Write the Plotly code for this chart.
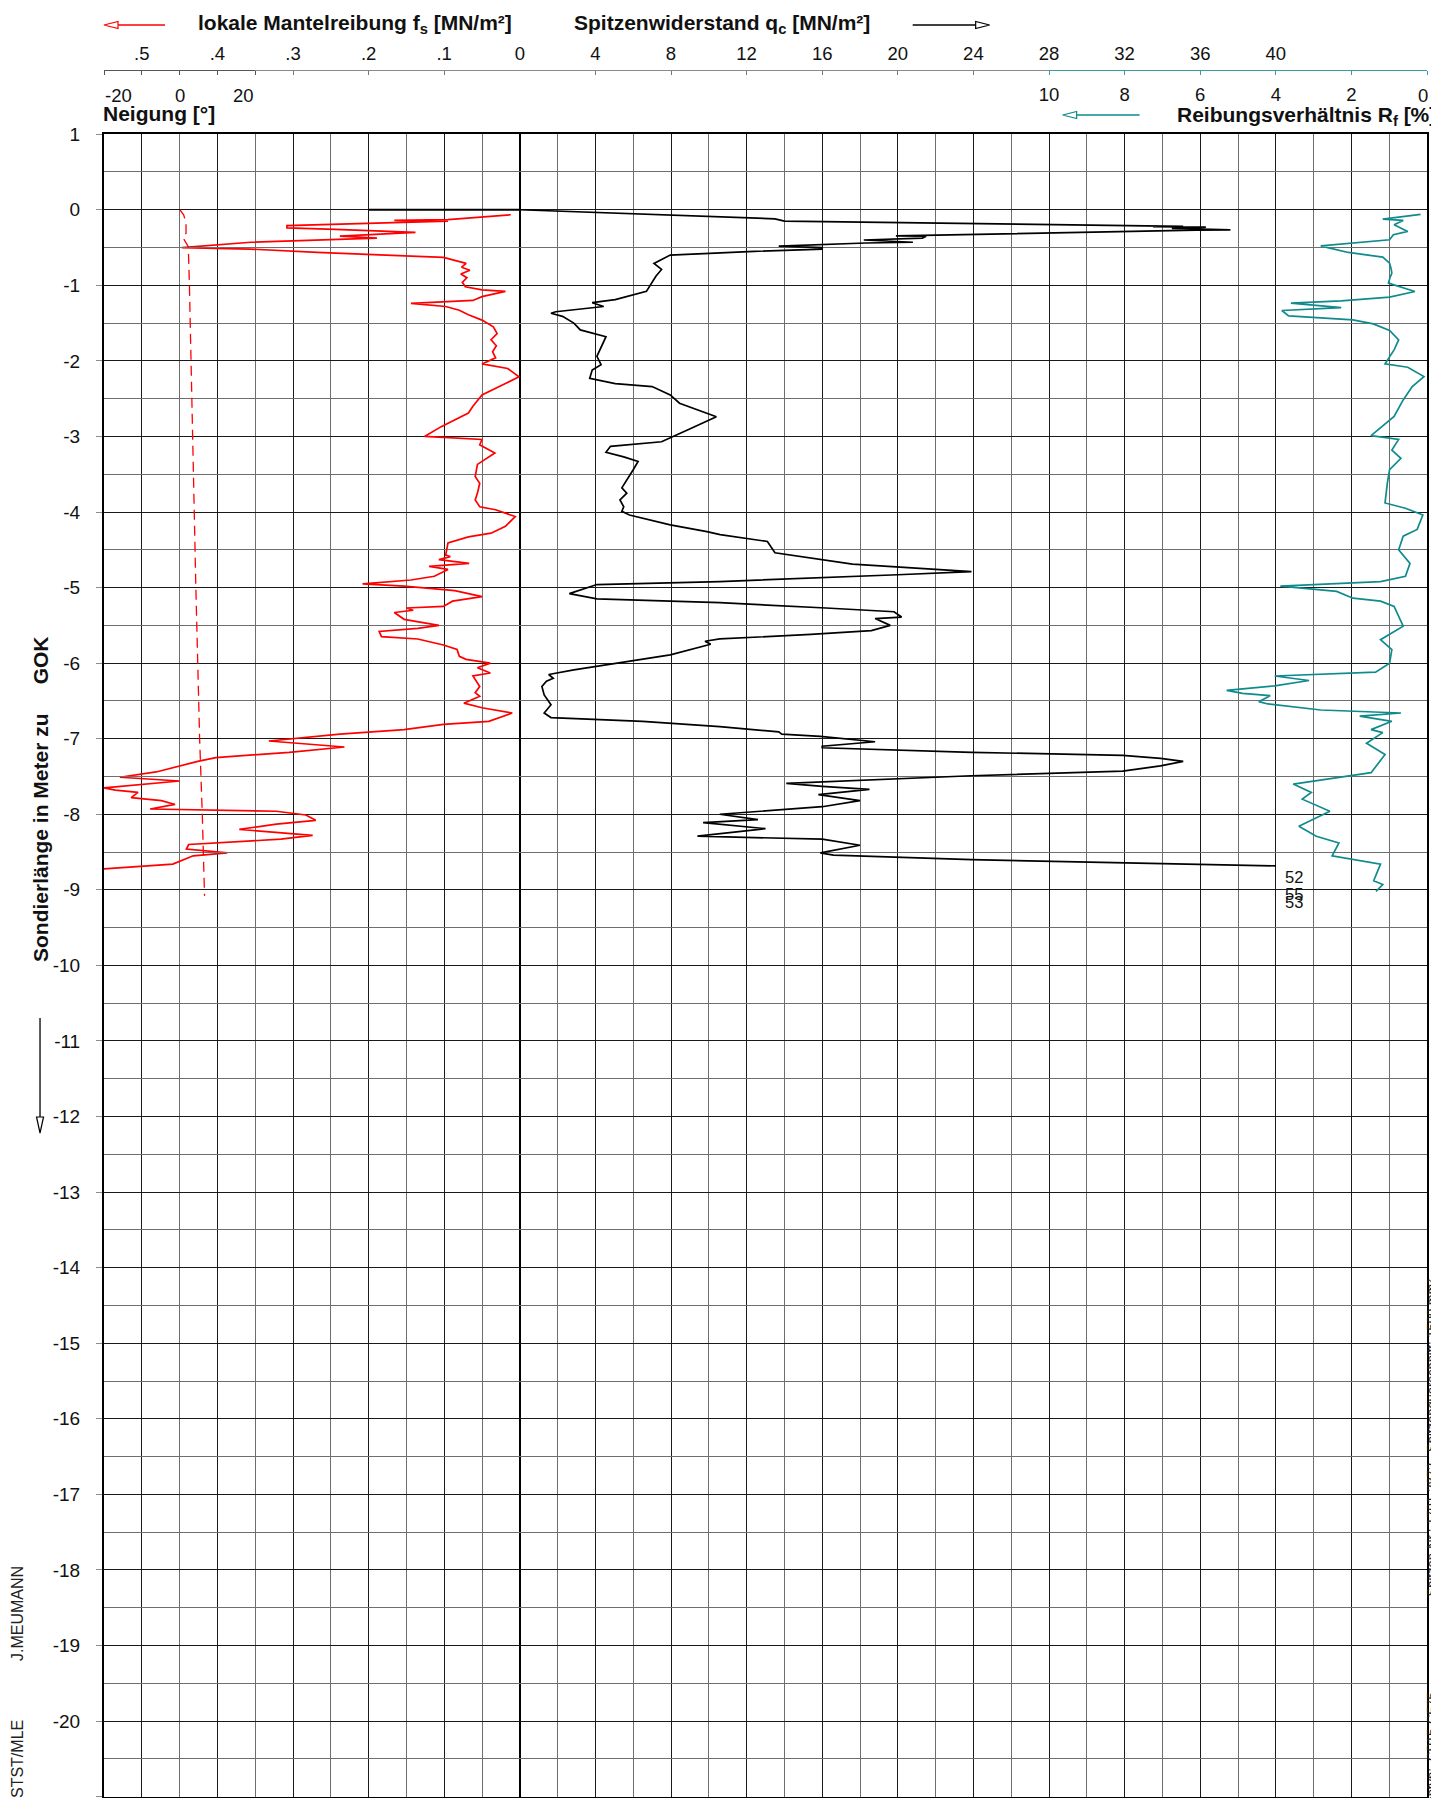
import plotly.graph_objects as go

# ---------------- data ----------------
# local skin friction f_s [MN/m²] vs. depth [m]
fs_depth = [-0.066, -0.10, -0.115, -0.13, -0.14, -0.15, -0.21, -0.24, -0.26, -0.30, -0.35, -0.375,
            -0.43, -0.49, -0.50, -0.52, -0.565, -0.63, -0.71, -0.76, -0.80, -0.85, -0.90, -0.96,
            -1.02, -1.06, -1.08, -1.15, -1.20, -1.24, -1.28, -1.33, -1.39, -1.46, -1.55, -1.64,
            -1.72, -1.80, -1.88, -1.96, -2.04, -2.10, -2.21, -2.30, -2.45, -2.60, -2.69, -2.87,
            -3.00, -3.04, -3.11, -3.22, -3.37, -3.53, -3.62, -3.75, -3.84, -3.93, -3.97, -4.06,
            -4.19, -4.28, -4.33, -4.41, -4.57, -4.59, -4.63, -4.68, -4.72, -4.76, -4.85, -4.90,
            -4.95, -4.98, -5.04, -5.12, -5.18, -5.25, -5.27, -5.30, -5.33, -5.42, -5.46, -5.50,
            -5.54, -5.58, -5.65, -5.68, -5.76, -5.82, -5.91, -5.95, -6.00, -6.06, -6.13, -6.17,
            -6.31, -6.39, -6.44, -6.53, -6.59, -6.66, -6.77, -6.81, -6.88, -6.94, -7.03, -7.11,
            -7.18, -7.25, -7.30, -7.44, -7.51, -7.56, -7.65, -7.68, -7.71, -7.78, -7.82, -7.87,
            -7.93, -7.96, -8.01, -8.08, -8.13, -8.20, -8.28, -8.33, -8.40, -8.46, -8.51, -8.55,
            -8.66, -8.73]
fs_value = [0.012, 0.060, 0.077, 0.095, 0.166, 0.095, 0.308, 0.308, 0.244, 0.138, 0.238, 0.189,
            0.356, 0.444, 0.447, 0.357, 0.268, 0.101, 0.071, 0.077, 0.066, 0.078, 0.070, 0.076,
            0.072, 0.050, 0.019, 0.050, 0.062, 0.144, 0.098, 0.080, 0.068, 0.050, 0.035, 0.030,
            0.038, 0.031, 0.036, 0.032, 0.050, 0.016, 0.001, 0.019, 0.050, 0.062, 0.068, 0.104,
            0.126, 0.050, 0.053, 0.033, 0.056, 0.059, 0.053, 0.056, 0.059, 0.053, 0.032, 0.006,
            0.019, 0.038, 0.068, 0.095, 0.098, 0.092, 0.107, 0.067, 0.120, 0.095, 0.113, 0.144,
            0.208, 0.153, 0.086, 0.050, 0.089, 0.101, 0.150, 0.141, 0.166, 0.153, 0.132, 0.107,
            0.135, 0.186, 0.183, 0.135, 0.101, 0.083, 0.080, 0.071, 0.039, 0.056, 0.039, 0.062,
            0.053, 0.059, 0.053, 0.074, 0.050, 0.010, 0.041, 0.101, 0.153, 0.238, 0.332, 0.232,
            0.305, 0.402, 0.426, 0.481, 0.529, 0.450, 0.550, 0.535, 0.505, 0.514, 0.474, 0.456,
            0.489, 0.322, 0.283, 0.270, 0.322, 0.371, 0.274, 0.316, 0.438, 0.441, 0.387, 0.432,
            0.459, 0.560]

# cone resistance q_c [MN/m²] vs. depth [m]
qc_depth = [0.0, -0.066, -0.097, -0.12, -0.15, -0.22, -0.225, -0.23, -0.245, -0.265, -0.27, -0.345,
            -0.35, -0.375, -0.40, -0.43, -0.44, -0.48, -0.50, -0.52, -0.55, -0.574, -0.60, -0.71,
            -0.79, -0.88, -1.08, -1.19, -1.23, -1.28, -1.35, -1.37, -1.41, -1.50, -1.59, -1.68,
            -1.81, -1.94, -2.05, -2.12, -2.23, -2.30, -2.34, -2.45, -2.56, -2.74, -2.91, -3.07,
            -3.13, -3.21, -3.27, -3.33, -3.44, -3.57, -3.68, -3.75, -3.84, -3.93, -3.99, -4.04,
            -4.17, -4.26, -4.30, -4.39, -4.45, -4.54, -4.69, -4.79, -4.83, -4.92, -4.96, -5.08,
            -5.15, -5.20, -5.27, -5.32, -5.39, -5.41, -5.50, -5.57, -5.62, -5.68, -5.71, -5.75,
            -5.89, -6.00, -6.09, -6.15, -6.20, -6.24, -6.31, -6.42, -6.55, -6.66, -6.72, -6.77,
            -6.84, -6.91, -6.94, -6.97, -7.04, -7.10, -7.12, -7.18, -7.22, -7.26, -7.30, -7.36,
            -7.43, -7.49, -7.59, -7.63, -7.67, -7.74, -7.82, -7.90, -8.00, -8.07, -8.11, -8.19,
            -8.29, -8.33, -8.41, -8.51, -8.54, -8.60, -8.72, -8.76, -8.80]
qc_value = [0.0, 7.96, 10.6, 13.5, 14.0, 35.1, 33.5, 36.3, 34.5, 37.6, 35.8, 19.9,
            21.5, 21.3, 18.2, 20.8, 18.3, 13.7, 16.0, 16.0, 12.4, 10.6, 7.96, 7.1,
            7.5, 7.2, 6.7, 5.05, 3.83, 4.44, 1.9, 1.65, 2.26, 2.86, 3.2, 4.56,
            4.3, 4.08, 4.3, 3.83, 3.7, 5.05, 7.0, 7.96, 8.45, 10.4, 8.9, 7.5,
            4.8, 4.56, 5.5, 6.26, 6.0, 5.66, 5.4, 5.66, 5.3, 5.5, 5.4, 5.8,
            7.96, 9.9, 10.6, 13.1, 13.25, 13.5, 17.6, 23.9, 20.0, 10.58, 4.08, 2.62,
            4.08, 10.58, 16.2, 19.8, 20.2, 18.8, 19.6, 18.6, 15.4, 10.58, 9.8, 10.1,
            7.96, 5.05, 2.86, 1.53, 1.77, 1.41, 1.17, 1.29, 1.65, 1.29, 1.65, 6.5,
            10.58, 13.7, 13.86, 15.9, 18.8, 16.0, 16.0, 23.9, 31.9, 33.9, 35.1, 33.9,
            31.9, 23.9, 14.1, 16.0, 18.5, 15.8, 18.0, 16.0, 10.58, 12.6, 9.7, 13.0,
            9.4, 16.0, 18.0, 15.9, 16.6, 23.9, 52.0, 55.0, 53.0]

# friction ratio R_f [%] vs. depth [m]
rf_depth = [-0.062, -0.088, -0.124, -0.141, -0.199, -0.287, -0.331, -0.397, -0.477, -0.508, -0.565,
            -0.627, -0.706, -0.78, -0.839, -0.90, -0.971, -1.082, -1.157, -1.205, -1.236, -1.294,
            -1.333, -1.404, -1.457, -1.51, -1.598, -1.722, -1.854, -2.04, -2.084, -2.208, -2.34,
            -2.517, -2.735, -2.99, -3.04, -3.18, -3.29, -3.44, -3.62, -3.88, -3.95, -4.04, -4.23,
            -4.32, -4.50, -4.68, -4.85, -4.92, -4.98, -5.03, -5.05, -5.14, -5.18, -5.25, -5.38,
            -5.51, -5.69, -5.82, -6.00, -6.12, -6.17, -6.23, -6.30, -6.36, -6.40, -6.43, -6.51,
            -6.54, -6.62, -6.66, -6.70, -6.77, -6.88, -6.92, -7.06, -7.21, -7.45, -7.53, -7.60,
            -7.71, -7.80, -7.96, -8.16, -8.29, -8.38, -8.55, -8.66, -8.88, -8.93, -9.02]
rf_value = [0.17, 0.63, 1.17, 0.63, 0.87, 0.51, 0.89, 0.99, 2.81, 2.57, 2.08,
            1.17, 0.99, 0.95, 0.93, 0.98, 1.02, 0.32, 0.99, 2.27, 3.60, 2.27,
            3.84, 3.66, 1.96, 1.42, 0.99, 0.75, 0.87, 1.11, 0.51, 0.08, 0.39,
            0.63, 0.87, 1.48, 0.75, 0.93, 0.69, 0.99, 1.05, 1.11, 0.57, 0.11, 0.26,
            0.63, 0.75, 0.45, 0.57, 1.23, 3.88, 2.81, 2.39, 1.96, 1.23, 0.87, 0.75,
            0.63, 1.23, 0.93, 0.99, 1.36, 4.03, 3.12, 4.03, 5.30, 4.88, 4.15, 4.45,
            4.21, 2.81, 0.69, 1.78, 0.93, 1.48, 1.17, 1.60, 1.11, 1.48, 2.57, 3.54,
            3.06, 3.30, 2.57, 3.39, 2.93, 2.33, 2.51, 1.23, 1.41, 1.17, 1.35]

# inclination [°] vs. depth [m]
incl_depth = [0.0, -0.07, -0.18, -0.31, -0.37, -0.49, -1.0, -2.0, -3.0, -4.0, -5.0, -6.0, -7.0, -8.0, -9.08]
incl_value = [0.1, 1.1, 1.7, 1.7, 0.9, 2.3, 2.6, 3.0, 3.4, 3.8, 4.3, 4.8, 5.3, 6.0, 6.6]

# tick labels
depth_ticks = list(range(1, -22, -1))
fs_ticks = [0.5, 0.4, 0.3, 0.2, 0.1, 0.0]
fs_ticktext = [".5", ".4", ".3", ".2", ".1", "0"]
qc_ticks = [4, 8, 12, 16, 20, 24, 28, 32, 36, 40]
rf_ticks = [10, 8, 6, 4, 2, 0]
incl_ticks = [-20, -10, 0, 10, 20]
incl_labels = [-20, 0, 20]
qc_offscale_labels = ["52", "55", "53"]

# ---------------- geometry (page pixels; the page body adds an 8 px offset) ----------------
OFF = 8
PAGE_W, PAGE_H = 1439, 1798
W, H = PAGE_W - OFF, PAGE_H - OFF
PLOT_L_PX, PLOT_R_PX = 104, 1427.5
ML = PLOT_L_PX - OFF
PW = PLOT_R_PX - PLOT_L_PX
MR = W - ML - PW
NCOL = 35
PLOT_TOP_PX, PLOT_BOT_PX = 134.2, 1796.6
AXLINE_PX = 70


def fx(px):
    return (px - PLOT_L_PX) / PW


def fy(py):
    return 1 - (py - OFF) / H


FONT = "Liberation Sans, Arial, Helvetica, sans-serif"
RED = "#ff0000"
TEAL = "#0f8b8d"
TXT = "#111111"

fig = go.Figure()
fig.add_trace(go.Scatter(x=[], y=[], xaxis="x", yaxis="y", showlegend=False, hoverinfo="skip"))
fig.add_trace(go.Scatter(x=incl_value, y=incl_depth, xaxis="x5", yaxis="y", mode="lines",
                         line=dict(color=RED, width=1.3, dash="10px,6px"), showlegend=False))
fig.add_trace(go.Scatter(x=fs_value, y=fs_depth, xaxis="x2", yaxis="y", mode="lines",
                         line=dict(color=RED, width=1.7), showlegend=False))
fig.add_trace(go.Scatter(x=qc_value, y=qc_depth, xaxis="x3", yaxis="y", mode="lines",
                         line=dict(color="#000000", width=1.7), showlegend=False))
fig.add_trace(go.Scatter(x=rf_value, y=rf_depth, xaxis="x4", yaxis="y", mode="lines",
                         line=dict(color=TEAL, width=1.7), showlegend=False))

header_pos = fy(AXLINE_PX)
hdr = dict(anchor="free", position=header_pos, showgrid=False, zeroline=False, tickmode="array",
           ticklen=4, tickwidth=1, showline=True, linewidth=1.3, fixedrange=True,
           tickfont=dict(size=18.5, color=TXT))

fig.update_layout(
    width=W, height=H,
    margin=dict(l=ML, r=MR, t=0, b=0, pad=0, autoexpand=False),
    paper_bgcolor="white", plot_bgcolor="rgba(0,0,0,0)", showlegend=False,
    font=dict(family=FONT, size=18.5, color=TXT),
    xaxis=dict(domain=[0, 1], range=[-22, 48], anchor="y", tick0=0, dtick=4,
               showticklabels=False, ticks="", showgrid=True, gridcolor="#1a1a1a", gridwidth=1.2,
               minor=dict(tick0=0, dtick=2, showgrid=True, gridcolor="#6e6e6e", gridwidth=1.2),
               zeroline=True, zerolinecolor="#000000", zerolinewidth=2.2,
               showline=True, mirror=True, linecolor="#000000", linewidth=2, fixedrange=True),
    yaxis=dict(domain=[fy(PLOT_BOT_PX), fy(PLOT_TOP_PX)], range=[-21, 1], anchor="x",
               tickmode="array", tickvals=depth_ticks, ticktext=[str(v) for v in depth_ticks],
               ticks="outside", ticklen=6, tickcolor="#8c8c8c", tickwidth=1,
               ticklabelstandoff=12, tickfont=dict(size=19, color=TXT),
               showgrid=True, gridcolor="#1a1a1a", gridwidth=1.3,
               minor=dict(tick0=0, dtick=0.5, showgrid=True, gridcolor="#6e6e6e", gridwidth=1.2),
               zeroline=False, showline=True, mirror=True, linecolor="#000000", linewidth=2,
               fixedrange=True),
    xaxis2=dict(hdr, domain=[0, 11 / NCOL], range=[0.55, 0], side="top", tickvals=fs_ticks,
                ticktext=fs_ticktext, ticks="inside", tickcolor="#777777", linecolor="#8a8a8a",
                ticklabelstandoff=2),
    xaxis3=dict(hdr, domain=[11 / NCOL, 31 / NCOL], range=[0, 40], side="top", tickvals=qc_ticks,
                ticktext=[str(v) for v in qc_ticks], ticks="inside", tickcolor="#777777",
                linecolor="#8a8a8a", ticklabelstandoff=2),
    xaxis4=dict(hdr, domain=[25 / NCOL, 1], range=[10, 0], side="bottom", tickvals=rf_ticks,
                ticktext=[str(v) if v != 0 else "" for v in rf_ticks], ticks="outside",
                tickcolor="#3a9c9c", linecolor="#3a9c9c", ticklabelstandoff=4),
    xaxis5=dict(hdr, domain=[0, 4 / NCOL], range=[-20, 20], side="bottom", tickvals=incl_ticks,
                ticks="outside", tickcolor="#555555", linecolor="#555555", showticklabels=False),
)

ann = []
# inclination labels (aligned like the reference)
for v in incl_labels:
    ann.append(dict(xref="x5", yref="paper", x=v, y=fy(95), text=str(v), showarrow=False,
                    xanchor="left" if v < 0 else ("right" if v > 0 else "center"), yanchor="middle",
                    borderpad=0, font=dict(size=18.5, color=TXT)))
# R_f "0" label at the right edge
ann.append(dict(xref="x4", yref="paper", x=rf_ticks[-1], y=fy(95), text=str(rf_ticks[-1]),
                showarrow=False, xanchor="right", yanchor="middle", xshift=2, borderpad=0,
                font=dict(size=18.5, color=TXT)))

# header titles
bold = dict(size=21, color=TXT, family=FONT)
ann.append(dict(xref="paper", yref="paper", x=fx(196), y=fy(24), xanchor="left", yanchor="middle",
                text="<b>lokale Mantelreibung f<sub>s</sub> [MN/m²]</b>", showarrow=False, font=bold))
ann.append(dict(xref="paper", yref="paper", x=fx(572), y=fy(24), xanchor="left", yanchor="middle",
                text="<b>Spitzenwiderstand q<sub>c</sub> [MN/m²]</b>", showarrow=False, font=bold))
ann.append(dict(xref="paper", yref="paper", x=fx(102), y=fy(114), xanchor="left", yanchor="middle",
                text="<b>Neigung [°]</b>", showarrow=False, font=bold, borderpad=0))
ann.append(dict(xref="paper", yref="paper", x=fx(1438), y=fy(116), xanchor="right", yanchor="middle",
                text="<b>Reibungsverhältnis R<sub>f</sub> [%]</b>", showarrow=False, font=bold,
                borderpad=0))

# y axis title
ann.append(dict(xref="paper", yref="paper", x=fx(40), y=fy(799), xanchor="center", yanchor="middle",
                textangle=-90, showarrow=False, font=dict(size=21, color=TXT, family=FONT),
                text="<b>Sondierlänge in Meter zu" + "\u00a0" * 5 + "GOK</b>"))

# off-scale q_c values
for lbl, ypx in zip(qc_offscale_labels, [877, 894, 902]):
    ann.append(dict(xref="x3", yref="paper", x=40, y=fy(ypx), xanchor="left", yanchor="middle",
                    xshift=7, text=lbl, showarrow=False, font=dict(size=16.5, color=TXT)))

# side texts
side_font = dict(size=16, color="#222222", family=FONT)
ann.append(dict(xref="paper", yref="paper", x=fx(17), y=fy(1614), xanchor="center", yanchor="middle",
                textangle=-90, text="J.MEUMANN", showarrow=False, font=side_font))
ann.append(dict(xref="paper", yref="paper", x=fx(17), y=fy(1759), xanchor="center", yanchor="middle",
                textangle=-90, text="STST/MLE", showarrow=False, font=side_font))
right_font = dict(size=13, color="#222222", family=FONT)
ann.append(dict(xref="paper", yref="paper", x=fx(1432), y=fy(1437), xanchor="center", yanchor="middle",
                textangle=-90, showarrow=False, font=right_font, borderpad=0,
                text="Spitzen-Nr.: 1701-2872\u00a0\u00a0\u00a0Spitzenquerschnitt: 1500 mm²"))
ann.append(dict(xref="paper", yref="paper", x=fx(1432), y=fy(1762), xanchor="center", yanchor="middle",
                textangle=-90, showarrow=False, font=right_font, borderpad=0,
                text="Spitzentyp:\u00a0\u00a0CP15-CF75"))

fig.update_layout(annotations=ann)

# ---------------- decorative arrows ----------------
shapes = []


def h_arrow(x_tail, x_tip, ypx, color):
    d = 1 if x_tail > x_tip else -1
    L = 14
    shapes.append(dict(type="line", xref="paper", yref="paper", x0=fx(x_tail), x1=fx(x_tip + d * L),
                       y0=fy(ypx), y1=fy(ypx), line=dict(color=color, width=1.4)))
    shapes.append(dict(type="path", xref="paper", yref="paper", xsizemode="pixel", ysizemode="pixel",
                       xanchor=fx(x_tip), yanchor=fy(ypx),
                       path=f"M 0 0 L {d * L} 3.5 L {d * L} -3.5 Z",
                       line=dict(color=color, width=1.2), fillcolor="white"))


h_arrow(165, 104, 25, RED)
h_arrow(913, 990, 25, "#000000")
h_arrow(1140, 1063, 115, TEAL)

# vertical depth arrow
shapes.append(dict(type="line", xref="paper", yref="paper", x0=fx(40), x1=fx(40), y0=fy(1018),
                   y1=fy(1117), line=dict(color="#000000", width=1.3)))
shapes.append(dict(type="path", xref="paper", yref="paper", xsizemode="pixel", ysizemode="pixel",
                   xanchor=fx(40), yanchor=fy(1133), path="M 0 0 L -3.5 16 L 3.5 16 Z",
                   line=dict(color="#000000", width=1.2), fillcolor="white"))

# bold segment along depth 0 (as drawn in reference)
shapes.append(dict(type="line", xref="x2", yref="y", x0=0.2, x1=0.0, y0=0, y1=0,
                   line=dict(color="#000000", width=2.2)))

fig.update_layout(shapes=shapes)

fig.write_html("out.html")
